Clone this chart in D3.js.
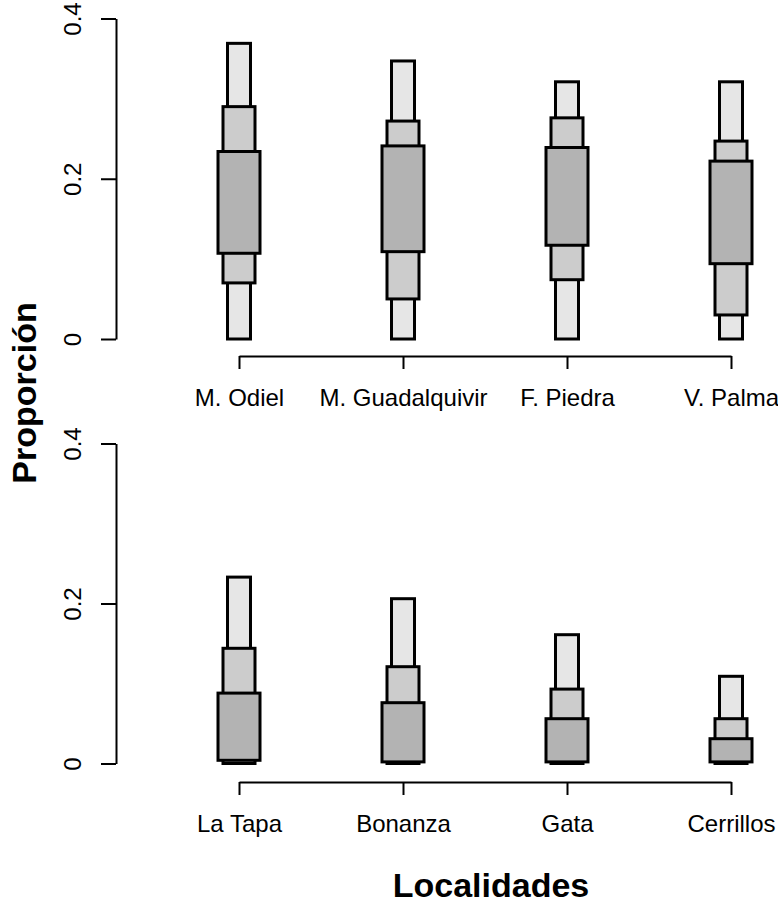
<!DOCTYPE html>
<html>
<head>
<meta charset="utf-8">
<script src="https://cdn.jsdelivr.net/npm/d3@7"></script>
<style>
  html, body { margin: 0; padding: 0; background: #ffffff; }
  svg { display: block; font-family: "Liberation Sans", Arial, sans-serif; }
</style>
</head>
<body>
<script>
// Upper panel: estuarine localities
const catsTop = ["M. Odiel", "M. Guadalquivir", "F. Piedra", "V. Palma"];
// Lower panel: coastal localities
const catsBottom = ["La Tapa", "Bonanza", "Gata", "Cerrillos"];

// Nested intervals per locality: outer (light), middle, inner (dark)
// each given as [low, high]
const outerTop  = [[0, 0.369], [0, 0.347], [0, 0.321], [0, 0.321]];
const middleTop = [[0.070, 0.290], [0.050, 0.272], [0.074, 0.276], [0.030, 0.247]];
const innerTop  = [[0.107, 0.234], [0.109, 0.241], [0.117, 0.239], [0.094, 0.222]];

const outerBottom  = [[0, 0.233], [0, 0.206], [0, 0.161], [0, 0.109]];
const middleBottom = [[0, 0.144], [0, 0.121], [0, 0.093], [0, 0.056]];
const innerBottom  = [[0.004, 0.088], [0.002, 0.076], [0.002, 0.056], [0.002, 0.031]];

const yTicks = [0, 0.2, 0.4];
const yTickLabels = ["0", "0.2", "0.4"];

const W = 778, H = 905;
const svg = d3.select("body").append("svg").attr("width", W).attr("height", H);

const levels = [
  { key: "outer",  fill: "#e6e6e6", width: 23 },
  { key: "middle", fill: "#cccccc", width: 32 },
  { key: "inner",  fill: "#b3b3b3", width: 42 }
];

function panel(cats, data, yRange, xAxisY) {
  const x = d3.scalePoint().domain(cats).range([239, 731]);
  const y = d3.scaleLinear().domain([0, 0.4]).range(yRange);
  const g = svg.append("g");

  levels.forEach((lv, i) => {
    g.selectAll("rect." + lv.key)
      .data(cats.map((c, j) => ({ c, lo: data[i][j][0], hi: data[i][j][1] })))
      .join("rect")
      .attr("class", lv.key)
      .attr("x", d => x(d.c) - lv.width / 2)
      .attr("width", lv.width)
      .attr("y", d => y(d.hi))
      .attr("height", d => y(d.lo) - y(d.hi))
      .attr("fill", lv.fill)
      .attr("stroke", "#000")
      .attr("stroke-width", 3);
  });

  // y axis
  const ya = g.append("g")
    .attr("transform", "translate(116,0)")
    .call(d3.axisLeft(y).tickValues(yTicks).tickFormat((d, i) => yTickLabels[i])
      .tickSize(15).tickSizeOuter(0));
  ya.selectAll("path, line").attr("stroke", "#000").attr("stroke-width", 2);
  ya.selectAll("text")
    .attr("x", 0).attr("y", 0).attr("dy", null)
    .attr("transform", "translate(-35,0) rotate(-90)")
    .attr("text-anchor", "middle")
    .attr("fill", "#000")
    .style("font-size", "24px")
    .style("font-family", "Liberation Sans, Arial, sans-serif");

  // x axis
  const xa = g.append("g")
    .attr("transform", `translate(0,${xAxisY})`)
    .call(d3.axisBottom(x).tickSize(13).tickSizeOuter(0));
  xa.selectAll("path, line").attr("stroke", "#000").attr("stroke-width", 2);
  xa.selectAll("text")
    .attr("y", 50).attr("dy", null)
    .attr("fill", "#000")
    .style("font-size", "24px")
    .style("font-family", "Liberation Sans, Arial, sans-serif");
}

panel(catsTop, [outerTop, middleTop, innerTop], [339, 18.5], 356);
panel(catsBottom, [outerBottom, middleBottom, innerBottom], [763.5, 443.5], 782);

// Axis titles
svg.append("text")
  .attr("transform", "translate(36,393) rotate(-90)")
  .attr("text-anchor", "middle")
  .style("font-size", "34px").style("font-weight", "bold")
  .text("Proporción");

svg.append("text")
  .attr("x", 491).attr("y", 897)
  .attr("text-anchor", "middle")
  .style("font-size", "34px").style("font-weight", "bold")
  .text("Localidades");
</script>
</body>
</html>
